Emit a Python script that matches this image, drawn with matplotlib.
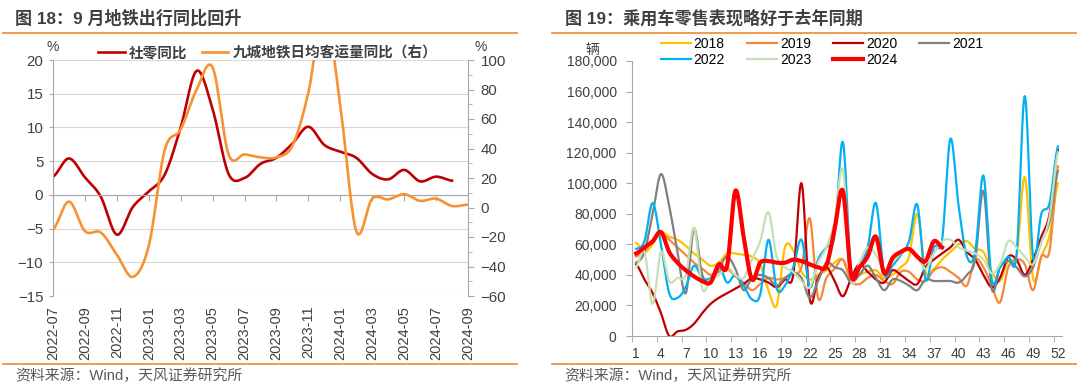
import numpy as np
import matplotlib
matplotlib.use('Agg')
import matplotlib.pyplot as plt
from matplotlib.lines import Line2D
from matplotlib.ticker import MultipleLocator, FuncFormatter

plt.rcParams['font.family'] = ['Liberation Sans', 'Noto Sans CJK SC']
plt.rcParams['axes.unicode_minus'] = True

# ========== 图18 数据（月度，%） ==========
months = ['2022-07', '2022-08', '2022-09', '2022-10', '2022-11', '2022-12',
          '2023-01', '2023-02', '2023-03', '2023-04', '2023-05', '2023-06',
          '2023-07', '2023-08', '2023-09', '2023-10', '2023-11', '2023-12',
          '2024-01', '2024-02', '2024-03', '2024-04', '2024-05', '2024-06',
          '2024-07', '2024-08', '2024-09']
# 社零同比（左轴），到 2024-08
retail_yoy = [2.7, 5.4, 2.6, -0.3, -5.9, -1.8, 0.5, 3.0, 10.0, 18.4, 12.7, 3.1,
              2.5, 4.6, 5.5, 7.6, 10.1, 7.4, 6.4, 5.5, 3.1, 2.3, 3.7, 2.0,
              2.7, 2.1]
# 九城地铁日均客运量同比（右轴）
metro_yoy = [-15, 4, -16, -17, -32, -47, -26, 39, 53, 80, 95, 36,
             36, 34, 34, 42, 78, 135, 69, -16, 6, 5.5, 9, 4.5,
             6, 1, 2]

# ========== 图19 数据（周度，千辆） ==========
weeks = list(range(1, 53))
car_2018 = [61, 55, 60, 68, 65, 63, 59, 54, 50, 46, 48, 54, 54, 53, 52, 47, 30, 20,
            58, 56, 42, 37, 40, 43, 48, 50, 36, 40, 42, 43, 38, 40, 45, 52, 80, 42,
            44, 50, 55, 60, 62, 57, 55, 42, 36, 50, 52, 104, 38, 52, 66, 100]
car_2019 = [52, 56, 62, 67, 63, 58, 53, 48, 44, 40, 42, 44, 39, 35, 30, 34, 38, 37,
            38, 41, 45, 77, 25, 38, 44, 50, 36, 34, 38, 40, 36, 34, 42, 42, 37, 36,
            43, 45, 42, 38, 33, 50, 45, 33, 22, 45, 50, 47, 30, 52, 56, 111]
car_2020 = [47, 37, 28, 15, 0, 3, 4, 8, 15, 21, 25, 28, 31, 34, 38, 37, 35, 32,
            37, 40, 100, 24, 38, 45, 36, 26, 38, 47, 42, 37, 35, 43, 40, 36, 34, 45,
            50, 54, 58, 63, 55, 50, 40, 32, 38, 52, 50, 40, 50, 65, 80, 122]
car_2021 = [48, 55, 80, 106, 85, 55, 28, 70, 40, 36, 44, 52, 44, 30, 38, 40, 38, 33,
            38, 41, 38, 25, 36, 48, 45, 43, 35, 40, 46, 38, 30, 37, 36, 33, 30, 37,
            36, 36, 36, 35, 40, 50, 95, 31, 45, 49, 45, 39, 45, 62, 75, 108]
car_2022 = [57, 62, 87, 60, 28, 25, 32, 46, 38, 38, 46, 35, 40, 33, 24, 27, 63, 31,
            33, 45, 63, 32, 50, 58, 66, 127, 41, 46, 58, 87, 41, 46, 53, 62, 86, 37,
            58, 63, 129, 85, 52, 55, 105, 37, 45, 52, 53, 157, 52, 80, 87, 124]
car_2023 = [45, 55, 21, 55, 36, 38, 40, 71, 31, 37, 40, 45, 40, 38, 50, 62, 81, 52,
            45, 42, 36, 32, 48, 58, 75, 109, 37, 48, 58, 53, 43, 48, 54, 56, 52, 44,
            54, 62, 63, 58, 56, 54, 50, 41, 47, 62, 58, 52, 47, 61, 78, 120]
car_2024 = [54, 58, 62, 68, 55, 48, 43, 39, 36, 35, 47, 46, 95, 65, 37, 48, 49, 48,
            48, 50, 49, 47, 45, 46, 70, 95, 40, 45, 52, 65, 41, 51, 55, 57, 52, 49,
            62, 58]

years = ['2018', '2019', '2020', '2021', '2022', '2023', '2024']
year_data = [car_2018, car_2019, car_2020, car_2021, car_2022, car_2023, car_2024]
year_colors = ['#FFC000', '#F5883A', '#C00000', '#808080', '#00B0F0', '#C5E0B4', '#FF0000']
year_lw = [1.6, 1.6, 1.6, 1.6, 1.6, 1.6, 3.0]


def smooth(x, y, n=16):
    """Excel 风格的平滑线（Catmull-Rom）"""
    x = np.asarray(x, float)
    y = np.asarray(y, float)
    yp = np.concatenate([[y[0]], y, [y[-1]]])
    t = np.linspace(0, 1, n, endpoint=False)
    h00 = 2 * t**3 - 3 * t**2 + 1
    h10 = t**3 - 2 * t**2 + t
    h01 = -2 * t**3 + 3 * t**2
    h11 = t**3 - t**2
    xs, ys = [], []
    for i in range(len(y) - 1):
        m1 = (yp[i + 2] - yp[i]) / 2
        m2 = (yp[i + 3] - yp[i + 1]) / 2
        xs.append(x[i] + t * (x[i + 1] - x[i]))
        ys.append(h00 * y[i] + h10 * m1 + h01 * y[i + 1] + h11 * m2)
    xs.append([x[-1]])
    ys.append([y[-1]])
    return np.concatenate(xs), np.concatenate(ys)


W, H = 1080, 390
def fx(px):
    return px / W
def fy(py):
    return 1 - py / H

TXT = '#404040'
AXC = '#A6A6A6'
RULE = '#F0892E'

fig = plt.figure(figsize=(10.8, 3.9), dpi=100)

# ========== 标题 / 来源 / 分隔线 ==========
fig.text(fx(15), fy(18), '图 18：9 月地铁出行同比回升', fontsize=12.3, weight='bold',
         color=TXT, va='center')
fig.text(fx(565), fy(18), '图 19：乘用车零售表现略好于去年同期', fontsize=12.3, weight='bold',
         color=TXT, va='center')
fig.text(fx(15), fy(376), '资料来源：Wind，天风证券研究所', fontsize=10.7, color='#595959', va='center')
fig.text(fx(564), fy(376), '资料来源：Wind，天风证券研究所', fontsize=10.7, color='#595959', va='center')
for x0, x1 in [(3, 517), (552, 1076)]:
    for yy in (33, 364):
        fig.add_artist(Line2D([fx(x0), fx(x1)], [fy(yy), fy(yy)], color=RULE, lw=1.2))

# ========== 图18 ==========
ax1 = fig.add_axes([fx(53), fy(296), 415 / W, 236 / H])
ax2 = ax1.twinx()
x = np.arange(len(months))

xs, ys = smooth(x[:len(retail_yoy)], retail_yoy)
ax1.plot(xs, ys, color='#C00000', lw=1.9, label='社零同比')
xs, ys = smooth(x, metro_yoy)
ax2.plot(xs, ys, color='#F79232', lw=1.9, label='九城地铁日均客运量同比（右）')

ax1.set_xlim(x[0], x[-1])
ax1.set_ylim(-15, 20)
ax1.set_yticks(np.arange(-15, 21, 5))
ax2.set_ylim(-60, 100)
ax2.set_yticks(np.arange(-60, 101, 20))
ax2.yaxis.set_minor_locator(MultipleLocator(10))

ax1.yaxis.grid(True, color='#D9D9D9', lw=0.8)
ax1.set_axisbelow(True)
for s in ['top', 'right']:
    ax1.spines[s].set_visible(False)
for s in ['top', 'left', 'bottom']:
    ax2.spines[s].set_visible(False)
ax1.spines['left'].set_color(AXC)
ax1.spines['bottom'].set_color(AXC)
ax1.spines['bottom'].set_position(('data', 0))
ax2.spines['right'].set_color(AXC)

ax1.set_xticks(x[::2])
ax1.tick_params(axis='x', length=4, color=AXC, labelbottom=False)
ax1.tick_params(axis='y', length=3, color=AXC, labelsize=10.8, labelcolor=TXT, pad=4)
ax2.tick_params(axis='y', which='major', length=4, color=AXC, labelsize=10.8, labelcolor=TXT, pad=5)
ax2.tick_params(axis='y', which='minor', length=3, color=AXC)

sec = ax1.secondary_xaxis('bottom')
sec.set_ticks(x[::2], labels=months[::2])
sec.tick_params(length=0, labelsize=10.5, labelcolor=TXT, labelrotation=90, pad=7)
sec.spines['bottom'].set_visible(False)

fig.text(fx(53), fy(47), '%', fontsize=10, color=TXT, ha='center', va='center')
fig.text(fx(481), fy(47), '%', fontsize=10, color=TXT, ha='center', va='center')

h1, l1 = ax1.get_legend_handles_labels()
h2, l2 = ax2.get_legend_handles_labels()
ax2.legend(h1 + h2, l1 + l2, loc='center', bbox_to_anchor=(fx(268), fy(53)),
           bbox_transform=fig.transFigure, ncol=2, frameon=False,
           prop={'size': 10.5, 'weight': 'bold'}, handlelength=1.8,
           handletextpad=0.3, columnspacing=1.0, labelcolor=TXT)

# ========== 图19 ==========
ax3 = fig.add_axes([fx(632), fy(336), 430 / W, 275 / H])
lines = {}
for yr, vals, c, lw in zip(years, year_data, year_colors, year_lw):
    xs, ys = smooth(weeks[:len(vals)], np.array(vals) * 1000)
    lines[yr], = ax3.plot(xs, ys, color=c, lw=lw, label=yr)

ax3.set_xlim(0.5, 52.5)
ax3.set_ylim(0, 180000)
ax3.set_yticks(np.arange(0, 180001, 20000))
ax3.yaxis.set_major_formatter(FuncFormatter(lambda v, p: f'{v:,.0f}'))
ax3.set_xticks(weeks[::3])
ax3.set_xticks(np.arange(0.5, 52, 3), minor=True)
for s in ['top', 'right']:
    ax3.spines[s].set_visible(False)
ax3.spines['left'].set_color(AXC)
ax3.spines['bottom'].set_color(AXC)
ax3.tick_params(axis='x', which='major', length=0, labelsize=10, labelcolor=TXT, pad=8)
ax3.tick_params(axis='x', which='minor', length=4, color=AXC)
ax3.tick_params(axis='y', length=4, color=AXC, labelsize=10, labelcolor=TXT, pad=7)

fig.text(fx(592), fy(50), '辆', fontsize=10, color=TXT, ha='center', va='center')

order = ['2018', '2022', '2019', '2023', '2020', '2024', '2021']
ax3.legend([lines[k] for k in order], order, loc='center', bbox_to_anchor=(fx(822), fy(52)),
           bbox_transform=fig.transFigure, ncol=4, frameon=False, fontsize=10,
           handlelength=2.15, handletextpad=0.2, columnspacing=1.6, labelspacing=0.1)

fig.savefig('out.png', dpi=100)
